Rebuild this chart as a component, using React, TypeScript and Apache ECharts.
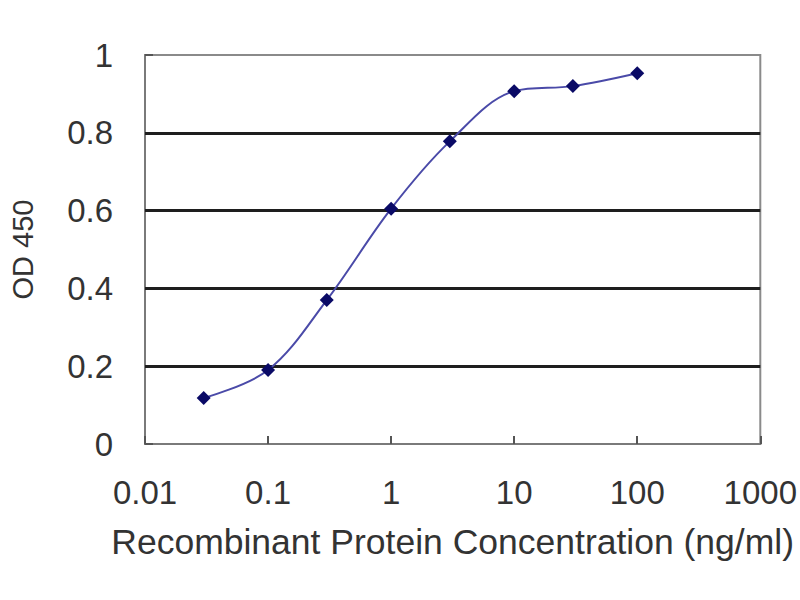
import React, { useEffect, useRef } from "react";
import * as echarts from "echarts";

const concentrations = [0.03, 0.1, 0.3, 1, 3, 10, 30, 100];
const odValues = [0.118, 0.19, 0.37, 0.605, 0.778, 0.907, 0.92, 0.953];
const gridValues = [0.2, 0.4, 0.6, 0.8];
const xTitle = "Recombinant Protein Concentration (ng/ml)";
const yTitle = "OD 450";

export default function App() {
  const ref = useRef<HTMLDivElement>(null);
  useEffect(() => {
    if (!ref.current) return;
    const chart = echarts.init(ref.current, undefined, { renderer: "svg" });
    const font = "'Liberation Sans', Arial, sans-serif";
    chart.setOption({
      animation: false,
      backgroundColor: "#ffffff",
      grid: {
        left: 143,
        right: 38,
        top: 55,
        bottom: 156,
        show: true,
        borderColor: "#8a8a8a",
        borderWidth: 2,
        backgroundColor: "#ffffff",
      },
      xAxis: {
        type: "log",
        logBase: 10,
        min: 0.01,
        max: 1000,
        name: xTitle,
        nameLocation: "middle",
        nameGap: 80,
        nameTextStyle: { fontFamily: font, fontSize: 35.5, color: "#333333" },
        axisLine: { show: true, lineStyle: { color: "#7a7a7a", width: 2 } },
        axisTick: { show: true, inside: true, length: 8, lineStyle: { color: "#555", width: 2 } },
        axisLabel: {
          fontFamily: font,
          fontSize: 33,
          color: "#333333",
          margin: 32,
          formatter: (v: number) => String(+v.toPrecision(6)),
        },
        splitLine: { show: false },
        minorTick: { show: false },
      },
      yAxis: {
        type: "value",
        min: 0,
        max: 1,
        interval: 0.2,
        name: yTitle,
        nameLocation: "middle",
        nameGap: 108,
        nameTextStyle: { fontFamily: font, fontSize: 29, color: "#333333" },
        axisLine: { show: true, lineStyle: { color: "#7a7a7a", width: 2 } },
        axisTick: { show: true, inside: true, length: 8, lineStyle: { color: "#555", width: 2 } },
        axisLabel: {
          fontFamily: font,
          fontSize: 33,
          color: "#333333",
          margin: 32,
          formatter: (v: number) => String(+v.toFixed(1)),
        },
        splitLine: { show: false },
      },
      series: [
        {
          type: "line",
          data: concentrations.map((c, i) => [c, odValues[i]]),
          smooth: 0.35,
          symbol: "diamond",
          symbolSize: 14,
          itemStyle: { color: "#0a0a66" },
          lineStyle: { color: "#4a4aa8", width: 2 },
          markLine: {
            silent: true,
            symbol: ["none", "none"],
            label: { show: false },
            lineStyle: { color: "#1e1e1e", width: 3, type: "solid" },
            data: gridValues.map((v) => ({ yAxis: v })),
            z: 1,
          },
          z: 5,
        },
      ],
    });
    return () => chart.dispose();
  }, []);
  return (
    <div
      ref={ref}
      style={{ position: "fixed", left: 0, top: 0, width: 800, height: 600 }}
    />
  );
}
